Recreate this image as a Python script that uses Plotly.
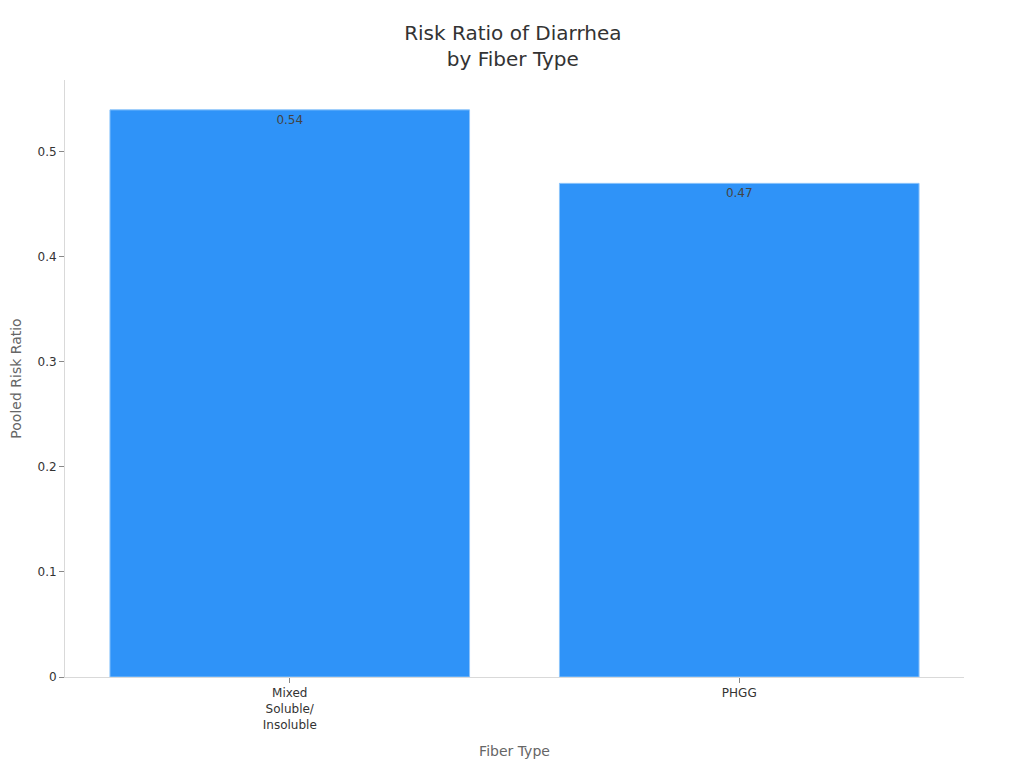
import plotly.graph_objects as go

fiber_types = ["Mixed<br>Soluble/<br>Insoluble", "PHGG"]
risk_ratios = [0.54, 0.47]
bar_labels = ["0.54", "0.47"]

fig = go.Figure()
fig.add_trace(go.Bar(
    x=fiber_types, y=risk_ratios,
    text=bar_labels, textposition="inside", insidetextanchor="end",
    textfont=dict(color="#444444", size=12),
    marker=dict(color="#2F93F8", line=dict(color="#8CC4FB", width=1)),
    hoverinfo="x+y",
))

fig.update_layout(
    width=1024, height=768,
    font=dict(family="DejaVu Sans", color="#333333"),
    title=dict(text="Risk Ratio of Diarrhea<br>by Fiber Type", x=0.493, xanchor="center",
               y=0.958, font=dict(size=20, color="#333333")),
    paper_bgcolor="white", plot_bgcolor="white",
    margin=dict(l=57, r=68, t=72, b=99),
    bargap=0.2,
    showlegend=False,
    xaxis=dict(title=dict(text="Fiber Type", font=dict(size=14, color="#666666")),
               showline=True, linecolor="#d9d9d9", ticks="outside", ticklen=5,
               tickcolor="#888888", tickfont=dict(size=12, color="#333333"),
               automargin=False),
    yaxis=dict(title=dict(text="Pooled Risk Ratio", font=dict(size=14, color="#666666"),
                          standoff=13),
               showline=True, linecolor="#d9d9d9", showgrid=False, zeroline=False,
               ticks="outside", ticklen=5, tickcolor="#888888",
               tickfont=dict(size=12, color="#333333"), tickformat="~g",
               automargin=False),
)

fig.write_html("out.html")
